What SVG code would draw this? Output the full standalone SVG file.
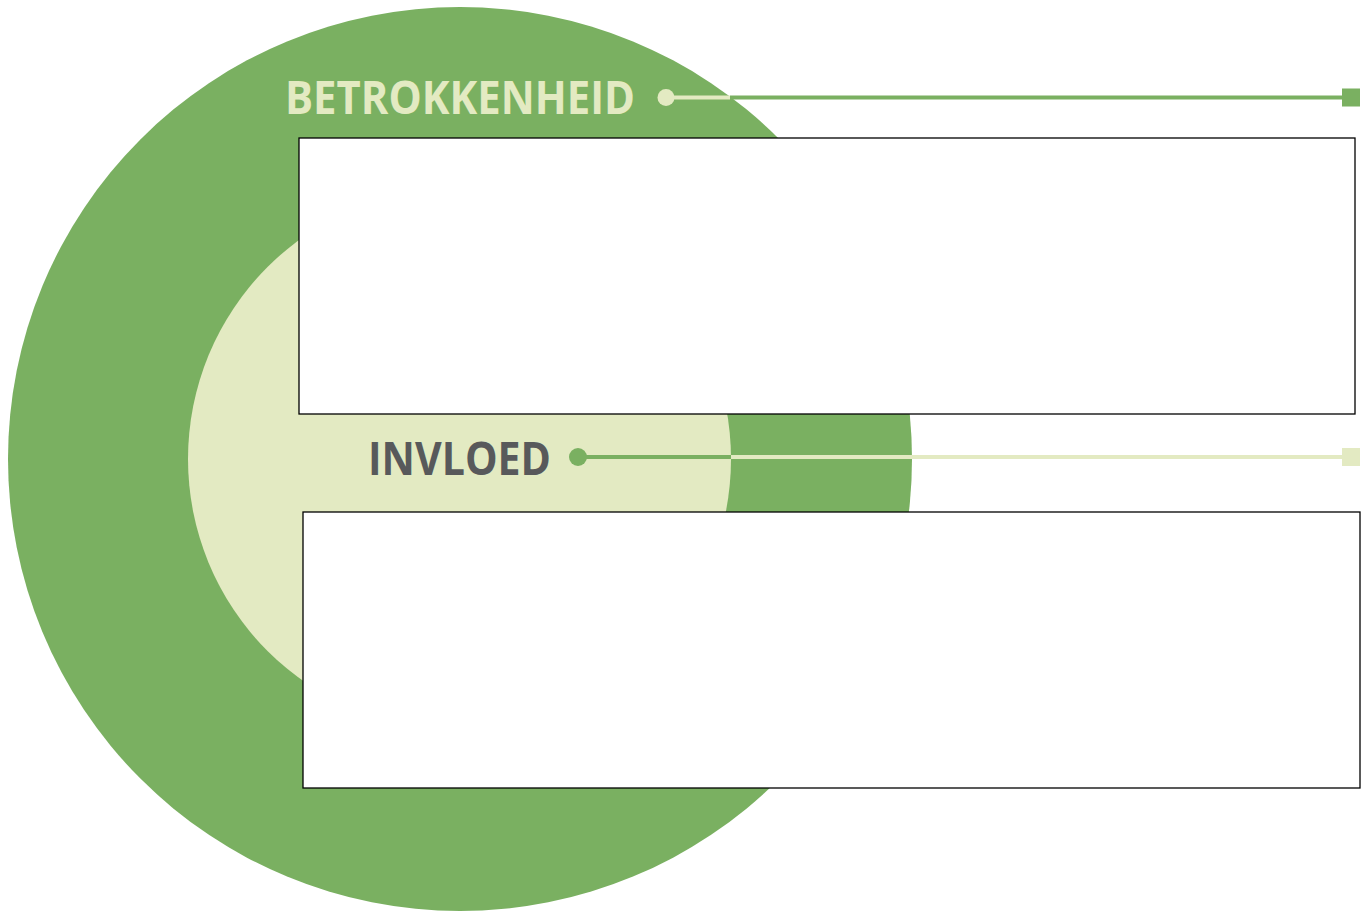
<svg xmlns="http://www.w3.org/2000/svg" width="1364" height="911" viewBox="0 0 1364 911">
<style>
.lbl{font-family:"Open Sans","Liberation Sans",sans-serif;font-weight:700;font-size:46px}
.box{fill:#fff;stroke:#000;stroke-width:1.3}
</style>
<rect width="1364" height="911" fill="#fff"/>
<g id="outer"><circle cx="460" cy="459" r="452" fill="#7ab061"/></g>
<g id="inner"><circle cx="459.5" cy="459" r="271.5" fill="#e3eac2"/></g>
<g id="connectors">
<line x1="667" y1="97.5" x2="730" y2="97.5" stroke="#e3eac2" stroke-width="4"/>
<line x1="730" y1="97.5" x2="1344" y2="97.5" stroke="#7ab061" stroke-width="4"/>
<circle cx="666" cy="97.5" r="8.5" fill="#e3eac2"/>
<rect x="1342" y="88.5" width="18" height="18" fill="#7ab061"/>
<line x1="578" y1="457" x2="731" y2="457" stroke="#7ab061" stroke-width="4"/>
<line x1="731" y1="457" x2="1344" y2="457" stroke="#e3eac2" stroke-width="4"/>
<circle cx="578" cy="457" r="9" fill="#7ab061"/>
<rect x="1342" y="448" width="18" height="18" fill="#e3eac2"/>
</g>
<g id="betrokkenheid"><text class="lbl" x="285" y="114" fill="#e3eac2" textLength="350" lengthAdjust="spacingAndGlyphs">BETROKKENHEID</text></g>
<g id="invloed"><text class="lbl" x="368" y="475" fill="#58595b" textLength="183" lengthAdjust="spacingAndGlyphs">INVLOED</text></g>
<g id="box1"><rect class="box" x="299" y="138" width="1056" height="276"/></g>
<g id="box2"><rect class="box" x="303" y="512" width="1057" height="276"/></g>
</svg>
